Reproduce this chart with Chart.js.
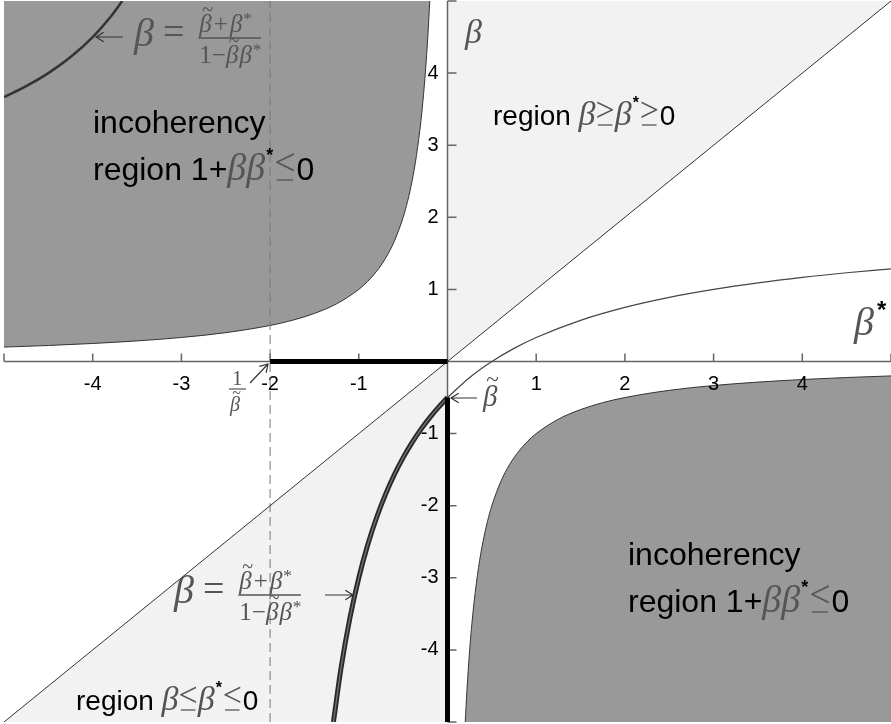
<!DOCTYPE html>
<html>
<head>
<meta charset="utf-8">
<script src="https://cdn.jsdelivr.net/npm/chart.js@4/dist/chart.umd.min.js"></script>
<style>
  html, body { margin: 0; padding: 0; background: #fff; }
  #wrap { width: 891px; height: 724px; }
</style>
</head>
<body>
<div id="wrap"><canvas id="grafico"></canvas></div>
<script>
// hiperbola 1 + beta*beta_star = 0 (lado beta_star < 0)
let hipNegX = [-5, -4.5, -4, -3.5, -3, -2.5, -2, -1.75, -1.5, -1.25, -1, -0.9, -0.8, -0.7, -0.6, -0.5, -0.45, -0.4, -0.35, -0.3, -0.27, -0.25, -0.22, -0.2];
let hipNegY = [0.2, 0.222, 0.25, 0.286, 0.333, 0.4, 0.5, 0.571, 0.667, 0.8, 1, 1.111, 1.25, 1.429, 1.667, 2, 2.222, 2.5, 2.857, 3.333, 3.704, 4, 4.545, 5];
// hiperbola lado beta_star > 0
let hipPosX = [0.2, 0.22, 0.25, 0.27, 0.3, 0.35, 0.4, 0.45, 0.5, 0.6, 0.7, 0.8, 0.9, 1, 1.25, 1.5, 1.75, 2, 2.5, 3, 3.5, 4, 4.5, 5];
let hipPosY = [-5, -4.545, -4, -3.704, -3.333, -2.857, -2.5, -2.222, -2, -1.667, -1.429, -1.25, -1.111, -1, -0.8, -0.667, -0.571, -0.5, -0.4, -0.333, -0.286, -0.25, -0.222, -0.2];
// curva beta = (bt + b*)/(1 - bt b*), bt = -0.5
let curvaGruesaX = [-1.286, -1.2, -1.1, -1, -0.9, -0.8, -0.7, -0.6, -0.5, -0.4, -0.3, -0.2, -0.1, 0];
let curvaGruesaY = [-5, -4.25, -3.556, -3, -2.545, -2.167, -1.846, -1.571, -1.333, -1.125, -0.941, -0.778, -0.632, -0.5];
let curvaFinaX = [0, 0.25, 0.5, 0.75, 1, 1.5, 2, 2.5, 3, 3.5, 4, 4.5, 5];
let curvaFinaY = [-0.5, -0.222, 0, 0.182, 0.333, 0.571, 0.75, 0.889, 1, 1.091, 1.167, 1.231, 1.286];
let curvaArribaX = [-5, -4.75, -4.5, -4.25, -4, -3.8, -3.667];
let curvaArribaY = [3.667, 3.818, 4, 4.222, 4.5, 4.778, 5];
// regiones, diagonal y segmentos
let diagX = [-5, 5];
let diagY = [-5, 5];
let regionSupX = [0, 5];
let regionSupY = [0, 5];
let regionInfX = [-5, 0];
let regionInfY = [-5, 0];
let segHorX = [-2, 0];
let segHorY = [0, 0];
let segVerX = [0, 0];
let segVerY = [-0.5, -5];
let dashX = [-2, -2];
let dashY = [-5, 5];
// ticks
let ticksX = [-5, -4, -3, -2, -1, 0, 1, 2, 3, 4, 5];
let ticksY = [-5, -4, -3, -2, -1, 0, 1, 2, 3, 4, 5];
let etiquetasX = ['', '-4', '-3', '-2', '-1', '', '1', '2', '3', '4', ''];
let etiquetasY = ['', '-4', '-3', '-2', '-1', '', '1', '2', '3', '4', ''];

const SANS = '"Liberation Sans", Arial, sans-serif';
const SERIF = '"Liberation Serif", "DejaVu Serif", serif';
const GRIS = '#555';

function pts(xs, ys) {
    return xs.map((x, i) => ({x: x, y: ys[i]}));
}

// dibuja beta (opcional con tilde), devuelve ancho
function beta(ctx, x, y, size, tilde) {
    ctx.font = 'italic ' + size + 'px ' + SERIF;
    ctx.fillStyle = GRIS;
    ctx.fillText('\u03b2', x, y);
    let w = ctx.measureText('\u03b2').width;
    if (tilde) {
        ctx.font = (size * 0.8) + 'px ' + SERIF;
        ctx.textAlign = 'center';
        ctx.textBaseline = 'middle';
        ctx.fillText('~', x + w * 0.66, y - size * 0.85);
        ctx.textAlign = 'left';
        ctx.textBaseline = 'alphabetic';
    }
    return w;
}

function txt(ctx, s, x, y, font, color) {
    ctx.font = font;
    ctx.fillStyle = color;
    ctx.fillText(s, x, y);
    return ctx.measureText(s).width;
}

// <= o >= al estilo TeX: signo con raya horizontal debajo
function rel(ctx, x, y, size, ch) {
    let w = txt(ctx, ch, x, y - size * 0.13, size + 'px ' + SERIF, GRIS);
    ctx.strokeStyle = GRIS;
    ctx.lineWidth = 1.3;
    ctx.beginPath();
    ctx.moveTo(x + w * 0.12, y);
    ctx.lineTo(x + w * 0.88, y);
    ctx.stroke();
    return w;
}

function estrella(ctx, x, y, size) {
    return txt(ctx, '*', x, y, 'bold ' + size + 'px ' + SANS, '#000');
}

function flecha(ctx, x1, y1, x2, y2) {
    let a = Math.atan2(y2 - y1, x2 - x1);
    ctx.strokeStyle = '#333';
    ctx.lineWidth = 1.2;
    ctx.beginPath();
    ctx.moveTo(x1, y1);
    ctx.lineTo(x2, y2);
    ctx.moveTo(x2 - 9 * Math.cos(a - 0.55), y2 - 9 * Math.sin(a - 0.55));
    ctx.lineTo(x2, y2);
    ctx.lineTo(x2 - 9 * Math.cos(a + 0.55), y2 - 9 * Math.sin(a + 0.55));
    ctx.stroke();
}

// beta = (bt + b*)/(1 - bt b*)
function formula(ctx, x, yb, s, fs) {
    let w = beta(ctx, x, yb, s, false);
    let xe = x + w + 9;
    let we = txt(ctx, '=', xe, yb - 2, '38px ' + SERIF, GRIS);
    let xf = xe + we + 14;
    let barY = yb - 8;
    // numerador
    let xn = xf + 1;
    xn += beta(ctx, xn, barY - 6, fs, true) + 2;
    xn += txt(ctx, '+', xn, barY - 6, fs + 'px ' + SERIF, GRIS) + 2;
    xn += beta(ctx, xn, barY - 6, fs, false);
    txt(ctx, '*', xn + 1, barY - 14, (fs * 0.7) + 'px ' + SERIF, GRIS);
    // denominador
    let yd = barY + 25;
    let xd = xf + 1;
    xd += txt(ctx, '1', xd, yd, fs + 'px ' + SERIF, GRIS);
    xd += txt(ctx, '\u2212', xd, yd, fs + 'px ' + SERIF, GRIS);
    xd += beta(ctx, xd, yd, fs, true) + 1;
    xd += beta(ctx, xd, yd, fs, false);
    txt(ctx, '*', xd + 1, yd - 8, (fs * 0.7) + 'px ' + SERIF, GRIS);
    let xfin = Math.max(xn, xd) + 9;
    ctx.strokeStyle = GRIS;
    ctx.lineWidth = 1.4;
    ctx.beginPath();
    ctx.moveTo(xf, barY);
    ctx.lineTo(xfin, barY);
    ctx.stroke();
    return xfin;
}

function regionIncoherencia(ctx, x, y) {
    const f = '32px ' + SANS;
    txt(ctx, 'incoherency', x, y - 47, f, '#000');
    let xx = x + txt(ctx, 'region 1+', x, y, f, '#000');
    xx += beta(ctx, xx, y, 38, false);
    xx += beta(ctx, xx, y, 38, false);
    estrella(ctx, xx + 1, y - 19, 18);
    xx += 9;
    xx += rel(ctx, xx, y, 38, '<') + 1;
    txt(ctx, '0', xx, y, f, '#000');
}

function regionOrden(ctx, x, y, simbolo) {
    const f = '28px ' + SANS;
    let xx = x + txt(ctx, 'region ', x, y, f, '#000');
    xx += beta(ctx, xx, y, 34, false);
    xx += rel(ctx, xx, y, 34, simbolo);
    xx += beta(ctx, xx, y, 34, false);
    estrella(ctx, xx + 1, y - 17, 16);
    xx += 8;
    xx += rel(ctx, xx, y, 34, simbolo) + 1;
    txt(ctx, '0', xx, y, f, '#000');
}

const ejes = {
    id: 'ejes',
    beforeDatasetDraw(chart, args) {
        if (chart.data.datasets[args.index].label !== 'punteada') return;
        const ctx = chart.ctx, sx = chart.scales.x, sy = chart.scales.y;
        const x0 = sx.getPixelForValue(0), y0 = sy.getPixelForValue(0);
        ctx.save();
        ctx.strokeStyle = '#666';
        ctx.lineWidth = 1.5;
        ctx.beginPath();
        ctx.moveTo(sx.getPixelForValue(-5), y0);
        ctx.lineTo(sx.getPixelForValue(5), y0);
        ctx.moveTo(x0, sy.getPixelForValue(-5));
        ctx.lineTo(x0, sy.getPixelForValue(5));
        ticksX.forEach((v) => {
            let px = sx.getPixelForValue(v);
            ctx.moveTo(px, y0);
            ctx.lineTo(px, y0 - 8);
        });
        ticksY.forEach((v) => {
            let py = sy.getPixelForValue(v);
            ctx.moveTo(x0, py);
            ctx.lineTo(x0 + 9, py);
        });
        ctx.stroke();
        ctx.fillStyle = '#000';
        ctx.font = '20px ' + SANS;
        ctx.textAlign = 'center';
        ctx.textBaseline = 'middle';
        ticksX.forEach((v, i) => {
            ctx.fillText(etiquetasX[i], sx.getPixelForValue(v), y0 + 23);
        });
        ctx.textAlign = 'right';
        ticksY.forEach((v, i) => {
            ctx.fillText(etiquetasY[i], x0 - 9, sy.getPixelForValue(v));
        });
        ctx.restore();
    }
};

const textos = {
    id: 'textos',
    afterDatasetsDraw(chart) {
        const ctx = chart.ctx;
        ctx.save();
        ctx.textAlign = 'left';
        ctx.textBaseline = 'alphabetic';

        regionIncoherencia(ctx, 93, 180);
        regionIncoherencia(ctx, 628, 612);
        regionOrden(ctx, 493, 125, '>');
        regionOrden(ctx, 76, 710, '<');

        // ejes beta y beta*
        beta(ctx, 465, 43, 34, false);
        beta(ctx, 854, 335, 40, false);
        estrella(ctx, 877, 318, 24);

        // formula arriba
        flecha(ctx, 123, 37, 96, 37);
        formula(ctx, 134, 46, 40, 25);
        // formula abajo
        formula(ctx, 174, 603, 40, 25);
        flecha(ctx, 325, 595, 353, 595);

        // 1/beta tilde
        txt(ctx, '1', 232, 385, '21px ' + SERIF, GRIS);
        ctx.strokeStyle = GRIS;
        ctx.lineWidth = 1.2;
        ctx.beginPath();
        ctx.moveTo(229, 389);
        ctx.lineTo(246, 389);
        ctx.stroke();
        beta(ctx, 230, 411, 20, true);
        flecha(ctx, 250, 383, 268, 364);

        // beta tilde en el eje
        flecha(ctx, 477, 398, 451, 398);
        beta(ctx, 483, 406, 29, true);
        ctx.restore();
    }
};

const data = {
    datasets: [
        {label: 'oscuraSup', data: pts(hipNegX, hipNegY), fill: 'end', backgroundColor: '#999999', borderColor: '#333', borderWidth: 1, cubicInterpolationMode: 'monotone', order: 10},
        {label: 'oscuraInf', data: pts(hipPosX, hipPosY), fill: 'start', backgroundColor: '#999999', borderColor: '#333', borderWidth: 1, cubicInterpolationMode: 'monotone', order: 10},
        {label: 'claraSup', data: pts(regionSupX, regionSupY), fill: 'end', backgroundColor: '#f2f2f2', borderWidth: 0, order: 11},
        {label: 'claraInf', data: pts(regionInfX, regionInfY), fill: 'start', backgroundColor: '#f2f2f2', borderWidth: 0, order: 11},
        {label: 'punteada', data: pts(dashX, dashY), borderColor: '#777', borderWidth: 1, borderDash: [9, 5], fill: false, order: 8},
        {label: 'diagonal', data: pts(diagX, diagY), borderColor: '#333', borderWidth: 1, fill: false, order: 7},
        {label: 'curvaFina', data: pts(curvaFinaX, curvaFinaY), borderColor: '#444', borderWidth: 1.2, fill: false, cubicInterpolationMode: 'monotone', order: 6},
        {label: 'curvaArriba', data: pts(curvaArribaX, curvaArribaY), borderColor: '#333', borderWidth: 2.5, fill: false, cubicInterpolationMode: 'monotone', order: 5},
        {label: 'curvaGruesa', data: pts(curvaGruesaX, curvaGruesaY), borderColor: '#2a2a2a', borderWidth: 5, fill: false, cubicInterpolationMode: 'monotone', order: 4},
        {label: 'curvaGruesaCentro', data: pts(curvaGruesaX, curvaGruesaY), borderColor: '#777', borderWidth: 1.2, fill: false, cubicInterpolationMode: 'monotone', order: 3},
        {label: 'segHor', data: pts(segHorX, segHorY), borderColor: '#000', borderWidth: 5, fill: false, order: 1},
        {label: 'segVer', data: pts(segVerX, segVerY), borderColor: '#000', borderWidth: 5, fill: false, order: 1}
    ]
};

const config = {
    type: 'line',
    data: data,
    options: {
        responsive: true,
        maintainAspectRatio: false,
        animation: false,
        layout: {padding: {left: 4, right: 0, top: 1, bottom: 2}},
        elements: {point: {radius: 0, hoverRadius: 0}, line: {borderCapStyle: 'butt'}},
        plugins: {legend: {display: false}, tooltip: {enabled: false}},
        scales: {
            x: {type: 'linear', min: -5, max: 5, display: false},
            y: {type: 'linear', min: -5, max: 5, display: false}
        }
    },
    plugins: [ejes, textos]
};

let myChart = new Chart(document.querySelector('#grafico').getContext('2d'), config);
</script>
</body>
</html>
